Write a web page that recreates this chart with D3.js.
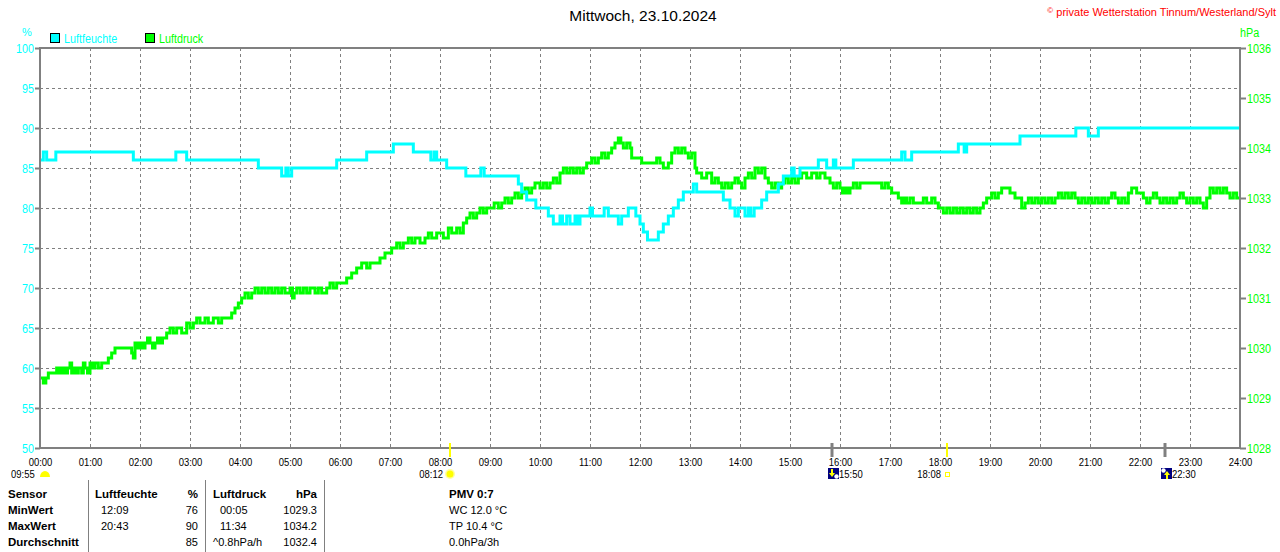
<!DOCTYPE html>
<html>
<head>
<meta charset="utf-8">
<script src="https://cdn.jsdelivr.net/npm/d3@7"></script>
<style>
body { margin: 0; background: #fff; }
svg { display: block; font-family: "Liberation Sans", Arial, sans-serif; }
</style>
</head>
<body>
<svg id="chart" width="1280" height="552"></svg>
<script>
// ---- data ----
var hourTicks = d3.range(0, 25);
var humTicks = [50, 55, 60, 65, 70, 75, 80, 85, 90, 95, 100];
var presTicks = [1028, 1029, 1030, 1031, 1032, 1033, 1034, 1035, 1036];

// Luftfeuchte (%), change points of the step line
var humTimes = ["00:00","00:04","00:08","00:19","01:52","02:43","02:56","04:22","04:50","04:55",
  "04:58","05:02","05:56","06:32","07:04","07:28","07:49","07:53","07:56","08:08",
  "08:31","08:49","08:53","09:34","09:38","09:44","09:55","10:10","10:16","10:24",
  "10:27","10:32","10:36","10:42","10:45","10:48","11:00","11:03","11:17","11:22",
  "11:34","11:38","11:46","11:55","12:00","12:04","12:09","12:22","12:28","12:34",
  "12:40","12:46","12:52","13:04","13:08","13:40","13:48","13:54","13:58","14:06",
  "14:10","14:13","14:17","14:26","14:32","14:46","14:52","15:02","15:05","15:12",
  "15:34","15:44","15:52","15:55","16:16","17:14","17:18","17:26","18:22","18:29",
  "18:32","19:36","20:43","20:58","21:10","24:00"];
var humValues = [86,87,86,87,86,87,86,85,84,85,
  84,85,86,87,88,87,86,87,86,85,
  84,85,84,83,82,81,80,79,78,79,
  78,79,78,79,78,79,80,79,80,79,
  78,79,80,79,78,77,76,77,78,79,
  80,81,82,83,82,81,80,79,80,79,
  80,79,80,81,82,83,84,85,84,85,
  86,85,86,85,86,87,86,87,88,87,
  88,89,90,89,90,90];

// Luftdruck (hPa), change points of the step line, one row per hour
var presTimes = [
  "00:00","00:04","00:07","00:10","00:20","00:22","00:24","00:26","00:28","00:30","00:33","00:36","00:38","00:41","00:44","00:46","00:50","00:52","00:54","00:57",
  "01:00","01:03","01:06","01:10","01:14","01:22","01:26","01:30","01:34","01:50","01:52","01:54","01:57",
  "02:00","02:03","02:06","02:09","02:12","02:15","02:18","02:21","02:24","02:27","02:32","02:36","02:40","02:44","02:50","02:56",
  "03:00","03:04","03:08","03:12","03:18","03:22","03:28","03:34","03:38","03:42","03:50","03:54","03:58",
  "04:02","04:06","04:10","04:14","04:18","04:22","04:26","04:30","04:34","04:38","04:42","04:46","04:50","04:54",
  "05:00","05:03","05:05","05:08","05:12","05:16","05:20","05:24","05:30","05:34","05:38","05:44","05:48","05:52","05:56",
  "06:04","06:08","06:14","06:20","06:26","06:32","06:36","06:48","06:54",
  "07:02","07:08","07:12","07:16","07:22","07:26","07:30","07:36","07:42","07:46","07:50","07:56",
  "08:04","08:10","08:14","08:20","08:24","08:28","08:32","08:36","08:40","08:44","08:48","08:52","08:56",
  "09:00","09:05","09:10","09:14","09:18","09:22","09:26","09:30","09:34","09:38","09:42","09:46","09:50","09:54",
  "10:00","10:04","10:08","10:12","10:16","10:20","10:24","10:28","10:32","10:36","10:40","10:44","10:48","10:52","10:56",
  "11:02","11:06","11:10","11:14","11:18","11:22","11:26","11:30","11:34","11:37","11:40","11:44","11:48","11:50",
  "12:02","12:20","12:24","12:28","12:34","12:38","12:42","12:46","12:50","12:54","12:58",
  "13:02","13:06","13:08","13:14","13:20","13:26","13:30","13:34","13:38","13:42","13:46","13:50","13:54","13:58",
  "14:02","14:06","14:10","14:14","14:18","14:22","14:26","14:30","14:34","14:38","14:42","14:46","14:50","14:54","14:58",
  "15:02","15:06","15:10","15:14","15:20","15:26","15:32","15:36","15:42","15:48","15:52","15:56",
  "16:00","16:03","16:06","16:09","16:12","16:16","16:20","16:24","16:50","16:54","16:58",
  "17:02","17:10","17:14","17:17","17:20","17:24","17:28","17:32","17:40","17:44","17:50","17:54","17:58",
  "18:04","18:08","18:12","18:16","18:20","18:24","18:28","18:32","18:36","18:40","18:44","18:48","18:52","18:56",
  "19:02","19:06","19:10","19:14","19:24","19:30","19:38","19:42","19:46","19:50","19:54","19:58",
  "20:02","20:06","20:10","20:14","20:18","20:22","20:26","20:30","20:34","20:38","20:42","20:46","20:50","20:54","20:58",
  "21:02","21:06","21:10","21:14","21:18","21:22","21:26","21:30","21:34","21:38","21:42","21:46","21:50","21:56",
  "22:04","22:08","22:12","22:16","22:20","22:24","22:28","22:32","22:36","22:40","22:44","22:48","22:52","22:56",
  "23:00","23:04","23:08","23:12","23:16","23:20","23:24","23:28","23:32","23:36","23:40","23:44","23:48","23:52","23:56","24:00"];
var presValues = [
  1029.4,1029.3,1029.4,1029.5,1029.6,1029.5,1029.6,1029.5,1029.6,1029.5,1029.6,1029.7,1029.5,1029.6,1029.5,1029.6,1029.5,1029.7,1029.6,1029.5,
  1029.7,1029.6,1029.7,1029.6,1029.7,1029.8,1029.9,1030.0,1030.0,1029.9,1029.8,1030.1,1030.0,
  1030.1,1030.0,1030.1,1030.2,1030.1,1030.0,1030.1,1030.2,1030.1,1030.2,1030.3,1030.4,1030.3,1030.4,1030.3,1030.5,
  1030.4,1030.5,1030.6,1030.5,1030.6,1030.5,1030.6,1030.5,1030.6,1030.6,1030.7,1030.8,1030.9,
  1031.0,1031.1,1031.0,1031.1,1031.2,1031.1,1031.2,1031.1,1031.2,1031.1,1031.2,1031.1,1031.2,1031.1,
  1031.2,1031.0,1031.1,1031.2,1031.1,1031.2,1031.1,1031.2,1031.1,1031.2,1031.1,1031.2,1031.3,1031.2,1031.3,
  1031.3,1031.4,1031.5,1031.6,1031.7,1031.6,1031.7,1031.8,1031.9,
  1032.0,1032.1,1032.0,1032.1,1032.2,1032.1,1032.2,1032.1,1032.2,1032.3,1032.2,1032.3,
  1032.2,1032.4,1032.3,1032.4,1032.3,1032.5,1032.6,1032.7,1032.6,1032.7,1032.8,1032.7,1032.8,
  1032.8,1032.9,1032.8,1032.9,1033.0,1032.9,1033.0,1033.1,1033.0,1033.1,1033.2,1033.1,1033.2,1033.3,
  1033.2,1033.3,1033.2,1033.3,1033.4,1033.3,1033.5,1033.6,1033.5,1033.6,1033.5,1033.6,1033.5,1033.6,1033.7,
  1033.8,1033.7,1033.8,1033.9,1033.8,1033.9,1034.0,1034.1,1034.2,1034.1,1034.0,1034.1,1034.0,1033.8,
  1033.7,1033.8,1033.7,1033.6,1033.7,1033.9,1034.0,1033.9,1034.0,1033.9,1033.8,
  1033.9,1033.6,1033.5,1033.4,1033.5,1033.3,1033.4,1033.3,1033.2,1033.3,1033.2,1033.3,1033.4,1033.3,
  1033.2,1033.4,1033.5,1033.4,1033.6,1033.5,1033.6,1033.4,1033.3,1033.2,1033.3,1033.2,1033.3,1033.4,1033.3,
  1033.4,1033.3,1033.4,1033.5,1033.4,1033.5,1033.4,1033.5,1033.4,1033.3,1033.2,1033.3,
  1033.2,1033.1,1033.2,1033.1,1033.2,1033.3,1033.2,1033.3,1033.2,1033.3,1033.2,
  1033.1,1033.0,1032.9,1033.0,1032.9,1033.0,1032.9,1032.9,1033.0,1032.9,1033.0,1032.9,1032.8,
  1032.7,1032.8,1032.7,1032.8,1032.7,1032.8,1032.7,1032.8,1032.7,1032.8,1032.7,1032.8,1032.9,1033.0,
  1033.1,1033.0,1033.1,1033.2,1033.1,1033.0,1032.8,1032.9,1033.0,1032.9,1033.0,1032.9,
  1033.0,1032.9,1033.0,1032.9,1033.0,1033.1,1033.0,1033.1,1033.0,1033.1,1033.0,1032.9,1033.0,1032.9,1033.0,
  1032.9,1033.0,1032.9,1033.0,1032.9,1033.0,1033.1,1033.0,1032.9,1033.0,1032.9,1033.1,1033.2,1033.1,
  1033.0,1032.9,1033.0,1033.1,1033.0,1032.9,1033.0,1032.9,1033.0,1032.9,1033.0,1033.1,1033.0,1032.9,
  1033.0,1032.9,1033.0,1032.9,1032.8,1033.0,1033.2,1033.1,1033.2,1033.1,1033.2,1033.1,1033.0,1033.1,1033.0,1033.0];

// sun / moon marks under the time axis
var markTimes = ["08:12", "15:50", "18:08", "22:30"];
var markKinds = ["sunrise", "moonset", "sunset", "moonrise"];
var sunshine = "09:55";

// statistics table
var rowNames = ["MinWert", "MaxWert", "Durchschnitt"];
var humRowTimes = ["12:09", "20:43", ""];
var humRowValues = ["76", "90", "85"];
var presRowTimes = ["00:05", "11:34", "^0.8hPa/h"];
var presRowValues = ["1029.3", "1034.2", "1032.4"];
var infoRows = ["WC 12.0 °C", "TP 10.4 °C", "0.0hPa/3h"];

// ---- setup ----
var CYAN = "#00ffff", GREEN = "#00ff00", GRAY = "#808080", YELLOW = "#ffff00", NAVY = "#000080";
var plot = {left: 40, right: 1240, top: 48, bottom: 448};

var svg = d3.select("#chart");

function toHours(s) {
  var p = s.split(":");
  return +p[0] + (+p[1]) / 60;
}

// the original uses a narrow bitmap font, squeeze the text horizontally
function squeeze(sel, f) {
  sel.each(function() {
    var w = this.getComputedTextLength();
    d3.select(this).attr("textLength", w * f).attr("lengthAdjust", "spacingAndGlyphs");
  });
}

var x = d3.scaleLinear().domain([0, 24]).range([plot.left, plot.right]);
var yHum = d3.scaleLinear().domain([50, 100]).range([plot.bottom, plot.top]);
var yPres = d3.scaleLinear().domain([1028, 1036]).range([plot.bottom, plot.top]);

var humData = humTimes.map(function(t, i) { return {t: toHours(t), v: humValues[i]}; });
var presData = presTimes.map(function(t, i) { return {t: toHours(t), v: presValues[i]}; });

// title and copyright
svg.append("text")
  .attr("x", 643).attr("y", 21)
  .attr("text-anchor", "middle")
  .attr("font-size", 15.5)
  .text("Mittwoch, 23.10.2024");

var copy = svg.append("text")
  .attr("x", 1276).attr("y", 16)
  .attr("text-anchor", "end")
  .attr("fill", "#ff0000")
  .attr("font-size", 11);
copy.append("tspan").attr("font-size", 8).attr("dy", -3).text("©");
copy.append("tspan").attr("dy", 3).text(" private Wetterstation Tinnum/Westerland/Sylt");

// units
svg.append("text")
  .attr("x", 27).attr("y", 36).attr("text-anchor", "middle")
  .attr("fill", CYAN).attr("font-size", 11).text("%");
svg.append("text")
  .attr("x", 1240).attr("y", 37)
  .attr("fill", GREEN).attr("font-size", 12.5).text("hPa")
  .call(squeeze, 0.86);

// legend
var legendNames = ["Luftfeuchte", "Luftdruck"];
var legendColors = [CYAN, GREEN];
var legend = svg.selectAll(".legend")
  .data(legendNames)
  .enter()
  .append("g")
  .attr("class", "legend")
  .attr("transform", function(d, i) { return "translate(" + (50 + i * 95) + ",33)"; });
legend.append("rect")
  .attr("x", 0.5).attr("y", 0.5).attr("width", 9).attr("height", 9)
  .attr("fill", function(d, i) { return legendColors[i]; })
  .attr("stroke", "#000");
legend.append("text")
  .attr("x", 14).attr("y", 9.5)
  .attr("font-size", 12.5)
  .attr("fill", function(d, i) { return legendColors[i]; })
  .text(function(d) { return d; })
  .call(squeeze, 0.86);

// grid
var grid = svg.append("g")
  .attr("stroke", GRAY)
  .attr("stroke-dasharray", "3,3")
  .attr("shape-rendering", "crispEdges");
grid.selectAll(".vgrid")
  .data(hourTicks.slice(1, 24))
  .enter()
  .append("line")
  .attr("x1", function(d) { return x(d) + 0.5; })
  .attr("x2", function(d) { return x(d) + 0.5; })
  .attr("y1", plot.top).attr("y2", plot.bottom);
grid.selectAll(".hgrid")
  .data(humTicks.slice(1, humTicks.length - 1))
  .enter()
  .append("line")
  .attr("y1", function(d) { return yHum(d) + 0.5; })
  .attr("y2", function(d) { return yHum(d) + 0.5; })
  .attr("x1", plot.left).attr("x2", plot.right);

// lines
var presLine = d3.line()
  .x(function(d) { return x(d.t); })
  .y(function(d) { return yPres(d.v); })
  .curve(d3.curveStepAfter);
var humLine = d3.line()
  .x(function(d) { return x(d.t); })
  .y(function(d) { return yHum(d.v); })
  .curve(d3.curveStepAfter);

svg.append("path")
  .datum(presData)
  .attr("d", presLine)
  .attr("fill", "none")
  .attr("stroke", GREEN)
  .attr("stroke-width", 3);

svg.append("path")
  .datum(humData)
  .attr("d", humLine)
  .attr("fill", "none")
  .attr("stroke", CYAN)
  .attr("stroke-width", 3);

// frame
svg.append("rect")
  .attr("x", plot.left).attr("y", plot.top)
  .attr("width", plot.right - plot.left).attr("height", plot.bottom - plot.top)
  .attr("fill", "none")
  .attr("stroke", GRAY)
  .attr("stroke-width", 2);

// axes
var leftAxis = svg.append("g")
  .attr("transform", "translate(" + plot.left + ",0)")
  .call(d3.axisLeft(yHum).tickValues(humTicks).tickSize(5).tickPadding(1).tickFormat(d3.format("d")));
var rightAxis = svg.append("g")
  .attr("transform", "translate(" + plot.right + ",0)")
  .call(d3.axisRight(yPres).tickValues(presTicks).tickSize(6).tickPadding(1).tickFormat(d3.format("d")));
var bottomAxis = svg.append("g")
  .attr("transform", "translate(0," + plot.bottom + ")")
  .call(d3.axisBottom(x).tickValues(hourTicks).tickSize(0).tickPadding(10)
    .tickFormat(function(d) { return (d < 10 ? "0" : "") + d + ":00"; }));

[leftAxis, rightAxis, bottomAxis].forEach(function(a) {
  a.attr("font-family", null);
  a.select(".domain").remove();
  a.selectAll("line").attr("stroke", GRAY).attr("stroke-width", 2);
});
leftAxis.attr("font-size", 12.5).selectAll("text").attr("fill", CYAN).call(squeeze, 0.86);
rightAxis.attr("font-size", 12.5).selectAll("text").attr("fill", GREEN).call(squeeze, 0.86);
bottomAxis.attr("font-size", 11).selectAll("text").attr("fill", "#000").call(squeeze, 0.86);

// sun / moon marks
var marks = svg.append("g").attr("font-size", 11);
markTimes.forEach(function(t, i) {
  var kind = markKinds[i];
  var mx = Math.round(x(toHours(t)));
  var isSun = kind === "sunrise" || kind === "sunset";
  marks.append("line")
    .attr("x1", mx).attr("x2", mx)
    .attr("y1", 443).attr("y2", 457)
    .attr("stroke", isSun ? YELLOW : GRAY)
    .attr("stroke-width", isSun ? 2 : 3);

  if (kind === "sunrise") {
    marks.append("circle").attr("cx", mx).attr("cy", 474).attr("r", 5).attr("fill", "#ffffa0");
    marks.append("circle").attr("cx", mx).attr("cy", 474).attr("r", 3.5).attr("fill", YELLOW);
    marks.append("text")
      .attr("x", mx - 7).attr("y", 478).attr("text-anchor", "end").text(t).call(squeeze, 0.86);
  } else if (kind === "sunset") {
    marks.append("rect").attr("x", mx - 1.5).attr("y", 472.5).attr("width", 4).attr("height", 4)
      .attr("fill", "none").attr("stroke", YELLOW);
    marks.append("text")
      .attr("x", mx - 6).attr("y", 478).attr("text-anchor", "end").text(t).call(squeeze, 0.86);
  } else {
    var gx = mx - 4;
    marks.append("rect").attr("x", gx).attr("y", 468).attr("width", 11).attr("height", 11).attr("fill", NAVY);
    if (kind === "moonrise") {
      marks.append("circle").attr("cx", gx + 2.5).attr("cy", 470.5).attr("r", 2.2).attr("fill", "#fff");
      marks.append("path").attr("fill", YELLOW)
        .attr("d", "M" + (gx + 6) + ",471 l3,4 h-2 v4 h-2 v-4 h-2 z");
    } else {
      marks.append("circle").attr("cx", gx + 8.5).attr("cy", 476.5).attr("r", 2.2).attr("fill", "#fff");
      marks.append("path").attr("fill", YELLOW)
        .attr("d", "M" + (gx + 4) + ",477 l-3,-4 h2 v-4 h2 v4 h2 z");
    }
    marks.append("text")
      .attr("x", gx + 11).attr("y", 478).text(t).call(squeeze, 0.86);
  }
});

// sunshine duration at the left
svg.append("text").attr("font-size", 11)
  .attr("x", 11).attr("y", 478).text(sunshine).call(squeeze, 0.86);
svg.append("path")
  .attr("fill", YELLOW)
  .attr("d", "M40,477 A5,6 0 0 1 50,477 Z");

// statistics table
var table = svg.append("g");
[88, 205, 324].forEach(function(sx) {
  table.append("line")
    .attr("x1", sx + 0.5).attr("x2", sx + 0.5)
    .attr("y1", 480).attr("y2", 552)
    .attr("stroke", GRAY);
});

var rowY = [498, 514, 530, 546];

function cell(tx, ty, txt, anchor, isBold) {
  table.append("text")
    .attr("x", tx).attr("y", ty)
    .attr("text-anchor", anchor || "start")
    .attr("font-weight", isBold ? "bold" : null)
    .attr("font-size", isBold ? 11.5 : 11)
    .text(txt);
}

cell(8, rowY[0], "Sensor", "start", true);
cell(95, rowY[0], "Luftfeuchte", "start", true);
cell(198, rowY[0], "%", "end", true);
cell(213, rowY[0], "Luftdruck", "start", true);
cell(317, rowY[0], "hPa", "end", true);
cell(449, rowY[0], "PMV 0:7", "start", true);

rowNames.forEach(function(name, i) {
  var ry = rowY[i + 1];
  cell(8, ry, name, "start", true);
  cell(101, ry, humRowTimes[i]);
  cell(198, ry, humRowValues[i], "end");
  cell(presRowTimes[i].charAt(0) === "^" ? 213 : 220, ry, presRowTimes[i]);
  cell(317, ry, presRowValues[i], "end");
  cell(449, ry, infoRows[i]);
});
</script>
</body>
</html>
